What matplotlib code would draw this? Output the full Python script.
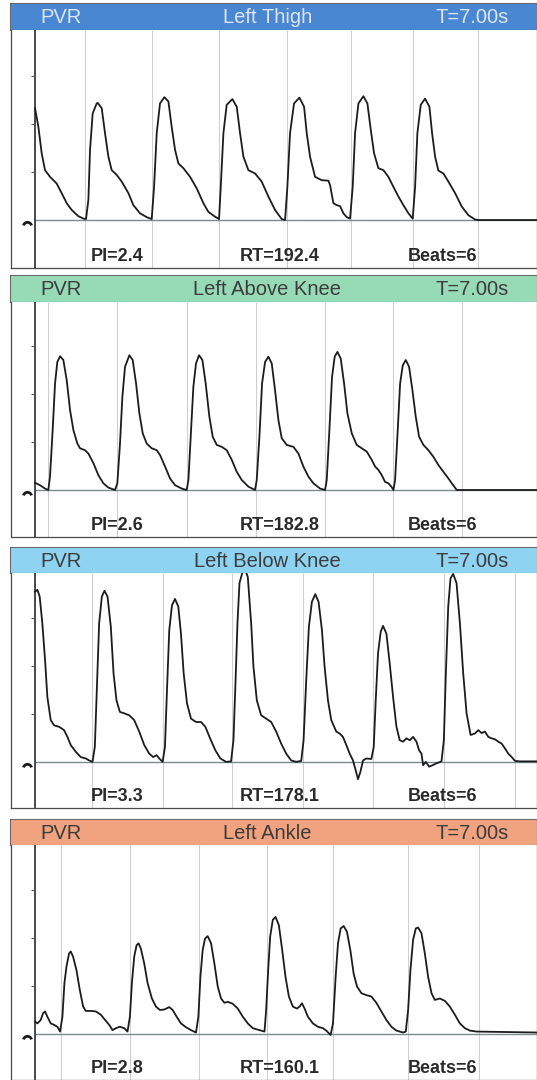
import matplotlib
matplotlib.use("Agg")
from matplotlib import pyplot as plt
from matplotlib.path import Path

plt.rcParams['font.family'] = ['Liberation Sans', 'DejaVu Sans']

# ---- data ----
sites = ["Left Thigh", "Left Above Knee", "Left Below Knee", "Left Ankle"]
pi_values = [2.4, 2.6, 3.3, 2.8]
rt_values = [192.4, 182.8, 178.1, 160.1]
beat_counts = [6, 6, 6, 6]
duration = 7.00

# beat onset markers (s)
thigh_beats = [0.70, 1.63, 2.57, 3.51, 4.41, 5.27, 6.18]
above_knee_beats = [0.18, 1.14, 2.12, 3.08, 4.04, 4.99, 5.96]
below_knee_beats = [0.80, 1.79, 2.75, 3.74, 4.71, 5.70, 6.70]
ankle_beats = [0.36, 1.33, 2.29, 3.23, 4.16, 5.20, 6.19]

# waveforms: time (s) and amplitude (tick units)
thigh_t = [0, 0.047, 0.093, 0.139, 0.209, 0.302, 0.372, 0.442, 0.511, 0.604, 0.674, 0.711,
           0.744, 0.767, 0.804, 0.860, 0.874, 0.930, 0.976, 1.023, 1.069, 1.139, 1.209, 1.302, 1.371, 1.464, 1.557, 1.627,
           1.660, 1.697, 1.743, 1.804, 1.860, 1.906, 1.953, 1.999, 2.069, 2.162, 2.255, 2.348, 2.417, 2.510, 2.566,
           2.590, 2.627, 2.673, 2.752, 2.813, 2.859, 2.906, 2.975, 3.068, 3.161, 3.254, 3.347, 3.440, 3.487,
           3.519, 3.556, 3.612, 3.687, 3.752, 3.789, 3.835, 3.905, 3.998, 4.091, 4.114, 4.161, 4.207, 4.254, 4.300, 4.347, 4.393,
           4.430, 4.463, 4.510, 4.579, 4.635, 4.682, 4.728, 4.788, 4.858, 4.928, 4.998, 5.067, 5.137, 5.207, 5.267,
           5.300, 5.332, 5.379, 5.439, 5.500, 5.537, 5.579, 5.625, 5.695, 5.765, 5.858, 5.951, 6.044, 6.137, 6.183, 7.0]
thigh_a = [2.33, 1.94, 1.39, 1.04, 0.90, 0.76, 0.56, 0.35, 0.21, 0.08, 0.03, 0.02,
           0.42, 1.46, 2.22, 2.43, 2.44, 2.33, 1.81, 1.32, 1.04, 0.94, 0.80, 0.56, 0.31, 0.14, 0.06, 0.02,
           0.69, 1.81, 2.43, 2.56, 2.47, 1.94, 1.46, 1.18, 1.08, 0.90, 0.66, 0.35, 0.17, 0.07, 0.02,
           0.69, 1.81, 2.40, 2.52, 2.36, 1.81, 1.32, 1.04, 0.97, 0.80, 0.49, 0.21, 0.02, 0.00,
           0.69, 1.81, 2.43, 2.55, 2.36, 1.81, 1.32, 0.90, 0.83, 0.82, 0.73, 0.35, 0.31, 0.29, 0.14, 0.06, 0.03,
           0.69, 1.81, 2.43, 2.58, 2.43, 1.88, 1.39, 1.08, 1.04, 0.90, 0.69, 0.49, 0.31, 0.14, 0.03,
           0.69, 1.81, 2.40, 2.53, 2.36, 1.81, 1.32, 1.03, 0.97, 0.80, 0.56, 0.28, 0.10, 0.01, 0.00, 0.00]

above_knee_t = [0, 0.070, 0.139, 0.186,
                0.209, 0.246, 0.279, 0.311, 0.349, 0.395, 0.442, 0.488, 0.535, 0.590, 0.628, 0.697, 0.744, 0.814, 0.883, 0.953, 1.023, 1.116,
                1.148, 1.185, 1.218, 1.255, 1.316, 1.362, 1.409, 1.455, 1.502, 1.557, 1.627, 1.697, 1.743, 1.813, 1.883, 1.953, 2.046, 2.115,
                2.139, 2.171, 2.208, 2.245, 2.287, 2.334, 2.380, 2.431, 2.478, 2.534, 2.603, 2.673, 2.743, 2.813, 2.882, 2.975, 3.068,
                3.092, 3.129, 3.166, 3.208, 3.254, 3.301, 3.347, 3.394, 3.440, 3.510, 3.603, 3.673, 3.742, 3.812, 3.882, 3.975, 4.045,
                4.068, 4.105, 4.142, 4.179, 4.217, 4.263, 4.310, 4.356, 4.417, 4.486, 4.556, 4.626, 4.695, 4.742, 4.788, 4.835, 4.881, 4.928, 4.974, 4.998,
                5.021, 5.058, 5.091, 5.128, 5.170, 5.216, 5.263, 5.309, 5.356, 5.416, 5.486, 5.556, 5.625, 5.695, 5.765, 5.811, 5.881, 7.0]
above_knee_a = [0.15, 0.10, 0.03, 0.00,
                0.28, 1.25, 2.22, 2.67, 2.79, 2.71, 2.29, 1.67, 1.25, 0.97, 0.87, 0.83, 0.76, 0.56, 0.31, 0.14, 0.05, 0.00,
                0.14, 0.97, 1.94, 2.57, 2.81, 2.71, 2.22, 1.60, 1.18, 0.97, 0.87, 0.83, 0.73, 0.49, 0.24, 0.10, 0.03, 0.00,
                0.21, 1.11, 2.15, 2.64, 2.81, 2.71, 2.22, 1.53, 1.11, 0.94, 0.90, 0.83, 0.63, 0.38, 0.21, 0.07, 0.00,
                0.21, 1.11, 2.22, 2.67, 2.78, 2.64, 2.08, 1.46, 1.08, 0.94, 0.90, 0.76, 0.49, 0.28, 0.14, 0.03, 0.00,
                0.21, 1.25, 2.36, 2.78, 2.88, 2.74, 2.22, 1.60, 1.18, 0.94, 0.87, 0.80, 0.63, 0.49, 0.42, 0.31, 0.17, 0.14, 0.06, 0.00,
                0.21, 1.25, 2.22, 2.60, 2.71, 2.57, 2.08, 1.53, 1.11, 0.94, 0.83, 0.69, 0.52, 0.38, 0.24, 0.14, 0.00, 0.00]

below_knee_t = [0, 0.033, 0.065, 0.102, 0.140, 0.172, 0.219, 0.265, 0.335, 0.405, 0.452, 0.498, 0.568, 0.638, 0.708, 0.755, 0.801,
                0.834, 0.862, 0.894, 0.932, 0.969, 1.011, 1.057, 1.095, 1.136, 1.183, 1.244, 1.313, 1.383, 1.453, 1.523, 1.593, 1.649, 1.695, 1.733, 1.779,
                1.812, 1.840, 1.872, 1.910, 1.952, 1.998, 2.035, 2.073, 2.119, 2.175, 2.245, 2.315, 2.375, 2.441, 2.515, 2.585, 2.664, 2.734,
                2.767, 2.795, 2.823, 2.851, 2.888, 2.920, 2.967, 3.014, 3.046, 3.093, 3.153, 3.223, 3.293, 3.363, 3.433, 3.503, 3.572, 3.642, 3.712,
                3.745, 3.782, 3.819, 3.861, 3.908, 3.954, 4.001, 4.038, 4.085, 4.131, 4.201, 4.248, 4.294, 4.341, 4.388, 4.434, 4.471, 4.504, 4.537, 4.574, 4.620, 4.690,
                4.723, 4.751, 4.783, 4.821, 4.853, 4.900, 4.946, 4.993, 5.040, 5.086, 5.133, 5.179, 5.226, 5.272, 5.319, 5.356, 5.389, 5.412, 5.449, 5.496, 5.543, 5.599, 5.668,
                5.701, 5.729, 5.762, 5.794, 5.831, 5.878, 5.925, 5.971, 6.018, 6.074, 6.134, 6.181, 6.227, 6.274, 6.321, 6.367, 6.414, 6.460, 6.507, 6.553, 6.600, 6.647, 6.693, 6.763, 7.0]
below_knee_a = [3.54, 3.58, 3.44, 2.88, 2.12, 1.35, 0.87, 0.76, 0.73, 0.66, 0.52, 0.35, 0.21, 0.10, 0.07, 0.03, 0.00,
                0.31, 1.49, 2.88, 3.44, 3.56, 3.44, 2.81, 1.84, 1.28, 1.04, 1.01, 0.97, 0.87, 0.63, 0.35, 0.17, 0.10, 0.14, 0.07, 0.00,
                0.31, 1.49, 2.74, 3.26, 3.39, 3.23, 2.67, 1.84, 1.22, 0.90, 0.83, 0.83, 0.73, 0.49, 0.24, 0.07, 0.00, 0.01,
                0.45, 1.63, 2.88, 3.72, 3.92, 4.03, 3.85, 2.88, 1.98, 1.28, 0.97, 0.90, 0.83, 0.63, 0.38, 0.17, 0.03, 0.00, 0.02,
                0.45, 1.70, 2.81, 3.33, 3.49, 3.33, 2.74, 1.98, 1.28, 0.87, 0.63, 0.59, 0.52, 0.35, 0.17, 0.03, -0.17, -0.36, -0.21, 0.03, 0.07, 0.06,
                0.31, 1.28, 2.26, 2.71, 2.83, 2.67, 2.05, 1.35, 0.73, 0.45, 0.42, 0.49, 0.45, 0.52, 0.42, 0.24, 0.17, -0.07, 0.00, -0.10, -0.07, -0.03, 0.01,
                0.45, 1.84, 3.23, 3.82, 3.91, 3.72, 2.88, 1.84, 1.01, 0.56, 0.59, 0.66, 0.60, 0.63, 0.52, 0.49, 0.47, 0.42, 0.38, 0.28, 0.17, 0.10, 0.02, 0.01, 0.01]

ankle_t = [0, 0.033, 0.079, 0.112, 0.140, 0.172, 0.219, 0.265, 0.312, 0.349,
           0.382, 0.410, 0.438, 0.475, 0.498, 0.531, 0.578, 0.624, 0.671, 0.708, 0.778, 0.848, 0.918, 0.978, 1.034, 1.081, 1.127, 1.183, 1.244, 1.290,
           1.323, 1.351, 1.383, 1.416, 1.444, 1.476, 1.523, 1.570, 1.630, 1.686, 1.742, 1.803, 1.872, 1.919, 1.975, 2.035, 2.105, 2.175, 2.245,
           2.278, 2.306, 2.338, 2.371, 2.408, 2.455, 2.501, 2.548, 2.594, 2.641, 2.688, 2.757, 2.827, 2.897, 2.967, 3.037, 3.130, 3.200,
           3.223, 3.251, 3.279, 3.316, 3.354, 3.400, 3.447, 3.493, 3.540, 3.596, 3.652, 3.689, 3.722, 3.759, 3.805, 3.875, 3.945, 4.015, 4.061, 4.122,
           4.155, 4.192, 4.225, 4.262, 4.304, 4.350, 4.397, 4.443, 4.490, 4.551, 4.620, 4.690, 4.760, 4.830, 4.900, 4.970, 5.040, 5.133, 5.170,
           5.203, 5.235, 5.272, 5.310, 5.342, 5.389, 5.436, 5.482, 5.529, 5.575, 5.645, 5.715, 5.785, 5.855, 5.925, 5.994, 6.064, 6.157, 7.0]
ankle_a = [0.26, 0.22, 0.29, 0.43, 0.47, 0.36, 0.22, 0.19, 0.15, 0.05,
           0.36, 1.06, 1.40, 1.68, 1.72, 1.61, 1.33, 0.92, 0.57, 0.48, 0.48, 0.47, 0.40, 0.29, 0.19, 0.08, 0.12, 0.15, 0.12, 0.05,
           0.36, 1.06, 1.61, 1.85, 1.89, 1.78, 1.47, 1.06, 0.74, 0.57, 0.50, 0.51, 0.56, 0.50, 0.36, 0.22, 0.14, 0.08, 0.03,
           0.36, 1.19, 1.75, 1.99, 2.04, 1.89, 1.47, 0.99, 0.74, 0.65, 0.67, 0.63, 0.53, 0.36, 0.22, 0.12, 0.08, 0.05,
           0.50, 1.33, 2.03, 2.38, 2.44, 2.27, 1.75, 1.19, 0.78, 0.57, 0.53, 0.57, 0.64, 0.53, 0.36, 0.22, 0.15, 0.12, 0.07, -0.02,
           0.22, 1.19, 1.89, 2.20, 2.25, 2.13, 1.75, 1.26, 0.99, 0.85, 0.81, 0.78, 0.65, 0.47, 0.29, 0.15, 0.07, 0.03, 0.05,
           0.50, 1.33, 1.96, 2.20, 2.22, 2.10, 1.68, 1.19, 0.85, 0.71, 0.74, 0.69, 0.57, 0.40, 0.22, 0.12, 0.07, 0.05, 0.03]

waves = [(thigh_t, thigh_a), (above_knee_t, above_knee_a),
         (below_knee_t, below_knee_a), (ankle_t, ankle_a)]
beats = [thigh_beats, above_knee_beats, below_knee_beats, ankle_beats]

# ---- look ----
header_colors = ['#4a87d2', '#97dbb6', '#8ed3f1', '#f1a27e']
header_text = ['#dbe6f0', '#3c3c3c', '#3c3c3c', '#3c3c3c']
# (header top, header bottom, plot bottom) in pixels from the top
panel_px = [(3, 30, 268), (275, 302, 537), (547, 573, 808), (819, 845, 1080)]
ylims = [(-1.0, 3.96), (-0.98, 3.92), (-0.96, 3.93), (-0.96, 3.94)]

W, H = 537, 1080
fig = plt.figure(figsize=(W / 100, H / 100), dpi=100)
fig.patch.set_facecolor('white')

arc = Path.arc(15, 165)
left_px = 11
for i in range(4):
    top, hb, bot = panel_px[i]
    # header band
    hax = fig.add_axes([(left_px - 1) / W, 1 - hb / H, 1 - (left_px - 1) / W, (hb - top) / H])
    hax.set_facecolor(header_colors[i])
    hax.set_xticks([])
    hax.set_yticks([])
    for s in hax.spines.values():
        s.set_color('#6a6a6a')
        s.set_linewidth(0.8)
    hkw = dict(color=header_text[i], fontsize=14.5, va='center', transform=hax.transAxes)
    hax.text(0.057, 0.45, "PVR", ha='left', **hkw)
    hax.text(0.488, 0.45, sites[i], ha='center', **hkw)
    hax.text(0.947, 0.45, "T=%.2fs" % duration, ha='right', **hkw)

    # trace area
    ax = fig.add_axes([left_px / W, 1 - bot / H, 1 - left_px / W, (bot - hb) / H])
    ax.set_xlim(-0.335, duration)
    ax.set_ylim(*ylims[i])
    ax.set_xticks([])
    ax.set_yticks([])
    for s in ax.spines.values():
        s.set_color('#4a4a4a')
        s.set_linewidth(0.9)
    ax.spines['top'].set_visible(False)

    lo, hi = ylims[i]
    ax.vlines(beats[i], lo, hi, color='#cfcfcf', lw=0.8, zorder=1)
    ax.hlines(0, 0, duration, color='#7d8a90', lw=1.0, zorder=2)
    ax.axvline(0, color='#2a2a2a', lw=1.2, zorder=3)
    ax.plot([0, 0, 0], [1, 2, 3], ls='none', marker=0, ms=3, mew=0.8, color='#555555', zorder=3)
    ax.plot([-0.115], [-0.13], ls='none', marker=arc, ms=6, mew=2.0, mfc='none', mec='#1a1a1a', zorder=3)

    t, a = waves[i]
    ax.plot(t, a, color='#1c1c1c', lw=1.3, zorder=4)

    bkw = dict(transform=ax.transAxes, ha='center', va='center', fontsize=13, fontweight='bold', color='#2a2a2a')
    ax.text(0.2015, 0.047, "PI=%.1f" % pi_values[i], **bkw)
    ax.text(0.511, 0.047, "RT=%.1f" % rt_values[i], **bkw)
    ax.text(0.821, 0.047, "Beats=%d" % beat_counts[i], **bkw)

fig.savefig("out.png", dpi=100, facecolor='white')
